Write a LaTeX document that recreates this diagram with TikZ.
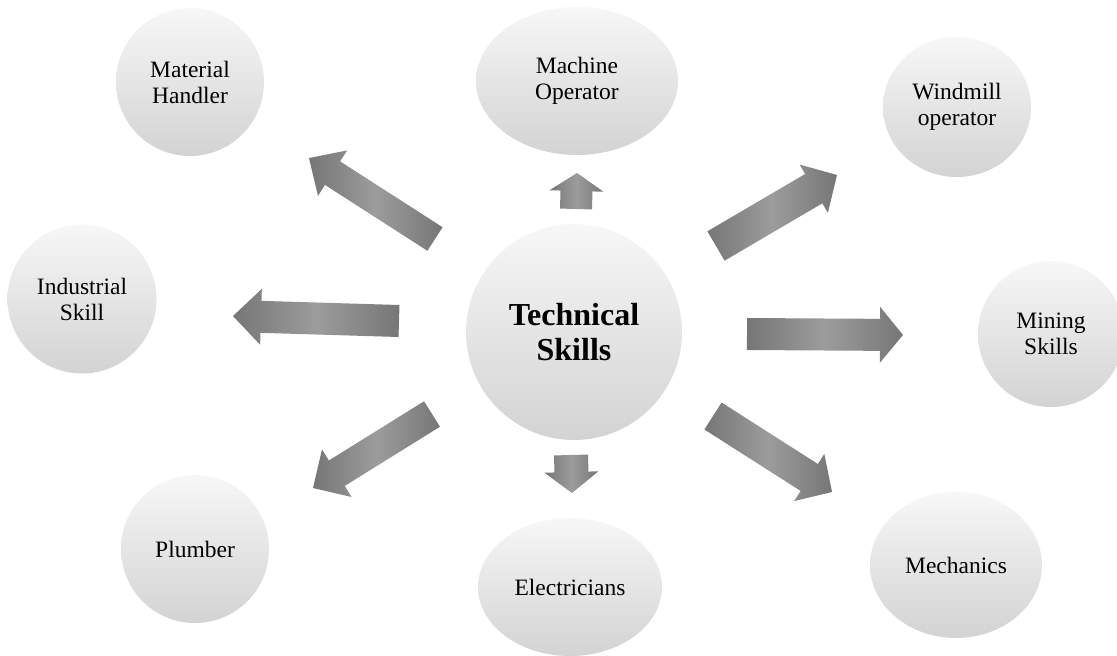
\documentclass[tikz,border=0pt]{standalone}
\usepackage{fontspec}
\setmainfont{Liberation Serif}
\usetikzlibrary{shapes.geometric,calc}

\definecolor{bubtop}{RGB}{247,247,247}
\definecolor{bubbot}{RGB}{211,211,211}
\definecolor{arrdark}{RGB}{118,118,118}
\definecolor{arrlight}{RGB}{156,156,156}

\tikzset{
  bubble/.style={ellipse, inner sep=0pt, align=center,
    top color=bubtop, bottom color=bubbot, draw=none,
    font=\fontsize{23.5}{26}\selectfont},
  hub/.style={bubble, font=\fontsize{32}{35}\selectfont\bfseries},
  blockarrow/.style={left color=arrdark, right color=arrdark,
    middle color=arrlight, draw=none}
}

% block arrow: #1 tail, #2 tip, #3 shaft half width, #4 head half width, #5 head length
\newcommand\blockarrow[5]{%
  \coordinate (hb) at ($(#2)!#5!(#1)$);
  \shade[blockarrow]
    ($(#1)!#3!90:(#2)$) -- ($(hb)!#3!90:(#2)$) -- ($(hb)!#4!90:(#2)$)
    -- (#2)
    -- ($(hb)!#4!-90:(#2)$) -- ($(hb)!#3!-90:(#2)$) -- ($(#1)!#3!-90:(#2)$)
    -- cycle;
}

\begin{document}
\begin{tikzpicture}[x=1pt,y=-1pt]
\clip (0,0) rectangle (1117,656);

% centre and satellite bubbles
\node[hub, minimum width=216pt, minimum height=216pt] (tech) at (574,332) {Technical\\Skills};
\node[bubble, minimum width=148pt, minimum height=148pt] (mat) at (190,82) {Material\\Handler};
\node[bubble, minimum width=202pt, minimum height=148pt] (mach) at (577,81) {Machine\\Operator};
\node[bubble, minimum width=148pt, minimum height=140pt] (wind) at (957,107) {Windmill\\operator};
\node[bubble, minimum width=149pt, minimum height=149pt] (ind) at (82,299) {Industrial\\Skill};
\node[bubble, minimum width=146pt, minimum height=146pt] (mine) at (1051,334) {Mining\\Skills};
\node[bubble, minimum width=148pt, minimum height=148pt] (plum) at (195,549) {Plumber};
\node[bubble, minimum width=184pt, minimum height=138pt] (elec) at (570,587) {Electricians};
\node[bubble, minimum width=172pt, minimum height=146pt] (mech) at (956,565) {Mechanics};

% arrow tails and tips
\coordinate (t1) at (435,239); \coordinate (p1) at (309,158);
\coordinate (t2) at (576,209); \coordinate (p2) at (577,173);
\coordinate (t3) at (716,246); \coordinate (p3) at (837,175);
\coordinate (t4) at (399,321); \coordinate (p4) at (233,316);
\coordinate (t5) at (747,334); \coordinate (p5) at (903,335);
\coordinate (t6) at (432,414); \coordinate (p6) at (313,488);
\coordinate (t7) at (571,455); \coordinate (p7) at (572,493);
\coordinate (t8) at (713,416); \coordinate (p8) at (832,492);

\blockarrow{t1}{p1}{14pt}{27pt}{28pt}
\blockarrow{t2}{p2}{16pt}{27pt}{18pt}
\blockarrow{t3}{p3}{17pt}{28pt}{27pt}
\blockarrow{t4}{p4}{16pt}{28pt}{28pt}
\blockarrow{t5}{p5}{16pt}{28pt}{23pt}
\blockarrow{t6}{p6}{15pt}{28pt}{28pt}
\blockarrow{t7}{p7}{17pt}{27pt}{21pt}
\blockarrow{t8}{p8}{16pt}{28pt}{27pt}
\end{tikzpicture}
\end{document}
